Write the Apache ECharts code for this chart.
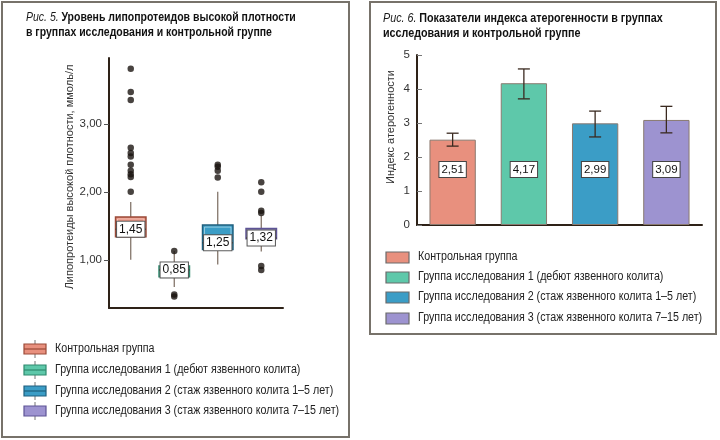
<!DOCTYPE html>
<html><head><meta charset="utf-8">
<script src="https://cdn.jsdelivr.net/npm/echarts@6/dist/echarts.min.js"></script>
<style>html,body{margin:0;padding:0;background:#fff}#c{width:720px;height:440px}</style>
</head><body><div id="c"></div>
<script>
// ---- data ----
const groups = ['Контрольная группа','Группа исследования 1 (дебют язвенного колита)','Группа исследования 2 (стаж язвенного колита 1–5 лет)','Группа исследования 3 (стаж язвенного колита 7–15 лет)'];
const fills = ['#e8907e','#5ec8aa','#3b9dc6','#9d93d0'];
const strokes = ['#9a4a38','#2f8a6e','#1e5f7e','#5e5496'];
// Fig.5 boxplot (ммоль/л)
const boxMin    = [1.00, 0.60, 0.93, 1.12];
const boxQ1     = [1.34, 0.75, 1.15, 1.31];
const boxMedian = [1.45, 0.85, 1.25, 1.32];
const boxQ3     = [1.63, 0.91, 1.51, 1.46];
const boxMax    = [1.85, 1.13, 2.00, 1.65];
const outliers = [
  [0,3.81],[0,3.47],[0,3.35],[0,2.65],[0,2.57],[0,2.52],[0,2.40],[0,2.31],[0,2.26],[0,2.22],[0,2.00],
  [1,1.13],[1,0.49],[1,0.46],
  [2,2.40],[2,2.37],[2,2.31],[2,2.21],
  [3,2.14],[3,2.00],[3,1.72],[3,1.69],[3,0.91],[3,0.85]
];
const leftTicks = [1,2,3];
// Fig.6 bar chart
const atherIndex = [2.51, 4.17, 2.99, 3.09];
const errLow  = [2.32, 3.71, 2.59, 2.71];
const errHigh = [2.70, 4.59, 3.35, 3.49];

const fmt2 = v => v.toFixed(2).replace('.', ',');
const FONT = '"Liberation Sans", Arial, sans-serif';
const AX = '#2e2218';

const chart = echarts.init(document.getElementById('c'), null, {renderer:'canvas'});

const titleRich = {i:{font:'italic 12.5px '+FONT, fill:'#1a1a1a', lineHeight:15}, b:{font:'bold 12.5px '+FONT, fill:'#111', lineHeight:15}};
const graphics = [
  {type:'rect', shape:{x:2,y:2,width:347,height:435}, style:{fill:'none', stroke:'#77726a', lineWidth:2}},
  {type:'rect', shape:{x:370,y:2,width:346,height:332}, style:{fill:'none', stroke:'#77726a', lineWidth:2}},
  {type:'text', x:26, y:10, scaleX:0.84, style:{text:'{i|Рис. 5.} {b|Уровень липопротеидов высокой плотности}\n{b|в группах исследования и контрольной группе}', rich:titleRich, verticalAlign:'top'}},
  {type:'text', x:383, y:11, scaleX:0.86, style:{text:'{i|Рис. 6.} {b|Показатели индекса атерогенности в группах}\n{b|исследования и контрольной группе}', rich:titleRich, verticalAlign:'top'}}
];
const legL = [349, 370, 391, 411];
const legR = [257, 277, 297, 318];
groups.forEach((g, i) => {
  const y = legL[i];
  graphics.push({type:'line', shape:{x1:35,y1:y-9,x2:35,y2:y+9}, style:{stroke:'#777', lineWidth:1}});
  graphics.push({type:'rect', shape:{x:24,y:y-5,width:22,height:10}, style:{fill:fills[i], stroke:strokes[i], lineWidth:1.2}});
  if (i < 3) graphics.push({type:'line', shape:{x1:24,y1:y,x2:46,y2:y}, style:{stroke:strokes[i], lineWidth:1.2}});
  graphics.push({type:'text', x:55, y:y, scaleX:0.89, style:{text:g, font:'12px '+FONT, fill:'#222', verticalAlign:'middle'}});
  const yr = legR[i];
  graphics.push({type:'rect', shape:{x:386,y:yr-5,width:23,height:11}, style:{fill:fills[i], stroke:'#6a6a6a', lineWidth:1.2}});
  graphics.push({type:'text', x:418, y:yr, scaleX:0.89, style:{text:g, font:'12px '+FONT, fill:'#222', verticalAlign:'middle'}});
});

const boxData = groups.map((g, i) => [i, boxMin[i], boxQ1[i], boxMedian[i], boxQ3[i], boxMax[i]]);

chart.setOption({
  animation:false,
  textStyle:{fontFamily:FONT},
  graphic: graphics,
  grid:[
    {left:109, top:58, width:174, height:250},
    {left:417, top:55, width:285, height:170}
  ],
  xAxis:[
    {gridIndex:0, type:'category', data:groups, axisLabel:{show:false},
     axisLine:{lineStyle:{color:AX, width:2}}, axisTick:{alignWithLabel:true, inside:true, length:5, lineStyle:{color:AX}}},
    {gridIndex:1, type:'category', data:groups, axisLabel:{show:false},
     axisLine:{lineStyle:{color:AX, width:2}}, axisTick:{inside:true, length:4, interval:0, lineStyle:{color:AX}}}
  ],
  yAxis:[
    {gridIndex:0, type:'value', min:0.29, max:3.97, splitLine:{show:false},
     axisLine:{show:true, lineStyle:{color:AX, width:2}},
     axisTick:{show:true, length:5, customValues:leftTicks, lineStyle:{color:'#555'}},
     axisLabel:{customValues:leftTicks, formatter:v => fmt2(v), fontSize:11.5, color:'#333', margin:7},
     name:'Липопротеиды высокой плотности, ммоль/л', nameLocation:'middle', nameGap:28, nameRotate:90,
     nameTextStyle:{fontSize:11, color:'#333', padding:[0,0,0,12]}},
    {gridIndex:1, type:'value', min:0, max:5, interval:1, splitLine:{show:false},
     axisLine:{show:true, lineStyle:{color:AX, width:2}},
     axisTick:{show:true, inside:true, length:5, lineStyle:{color:'#777'}},
     axisLabel:{fontSize:11.5, color:'#333', margin:7},
     name:'Индекс атерогенности', nameLocation:'middle', nameGap:21, nameRotate:90,
     nameTextStyle:{fontSize:11, color:'#333', padding:[0,0,0,26]}}
  ],
  series:[
    {type:'custom', xAxisIndex:0, yAxisIndex:0, data:boxData, z:3,
     renderItem:(params, api) => {
       const i = api.value(0);
       const w = api.size([1,0])[0]*0.7;
       const pMin = api.coord([i, api.value(1)]), pQ1 = api.coord([i, api.value(2)]),
             pMed = api.coord([i, api.value(3)]), pQ3 = api.coord([i, api.value(4)]),
             pMax = api.coord([i, api.value(5)]);
       const cx = pMed[0];
       return {type:'group', children:[
         {type:'line', shape:{x1:cx,y1:pMax[1],x2:cx,y2:pQ3[1]}, style:{stroke:'#7a6a5e', lineWidth:1.2}},
         {type:'line', shape:{x1:cx,y1:pQ1[1],x2:cx,y2:pMin[1]}, style:{stroke:'#7a6a5e', lineWidth:1.2}},
         {type:'rect', shape:{x:cx-w/2, y:pQ3[1], width:w, height:pQ1[1]-pQ3[1]}, style:{fill:fills[i], stroke:strokes[i], lineWidth:1.5}},
         {type:'rect', shape:{x:cx-w/2+2, y:pQ3[1]+2, width:w-4, height:Math.max(0,pQ1[1]-pQ3[1]-4)}, style:{fill:'none', stroke:'rgba(255,255,255,0.45)', lineWidth:1}},
         {type:'line', shape:{x1:cx-w/2,y1:pMed[1],x2:cx+w/2,y2:pMed[1]}, style:{stroke:'#3a2a20', lineWidth:1.2}},
         {type:'text', style:{text:fmt2(api.value(3)), x:cx, y:pMed[1], align:'center', verticalAlign:'middle',
           font:'12px '+FONT, fill:'#111', backgroundColor:'#fff', borderColor:'#555', borderWidth:1, padding:[2,2,1,2]}}
       ]};
     }},
    {type:'scatter', xAxisIndex:0, yAxisIndex:0, data:outliers, symbolSize:6.5, itemStyle:{color:'#1a1410'}, z:4},
    {type:'bar', xAxisIndex:1, yAxisIndex:1, data:atherIndex, barWidth:'65%',
     itemStyle:{color:p => fills[p.dataIndex], borderColor:'#8a7a70', borderWidth:1},
     label:{show:true, position:'insideBottom', distance:48, formatter:p => fmt2(p.value),
       fontSize:11.5, color:'#111', backgroundColor:'#fff', borderColor:'#444', borderWidth:1, padding:[2,2,1,2]}},
    {type:'custom', xAxisIndex:1, yAxisIndex:1, z:5,
     data: atherIndex.map((v, i) => [i, errLow[i], errHigh[i]]),
     renderItem:(params, api) => {
       const lo = api.coord([api.value(0), api.value(1)]), hi = api.coord([api.value(0), api.value(2)]);
       const c = 6, st = {stroke:'#3a2a20', lineWidth:1.3};
       return {type:'group', children:[
         {type:'line', shape:{x1:lo[0],y1:lo[1],x2:hi[0],y2:hi[1]}, style:st},
         {type:'line', shape:{x1:lo[0]-c,y1:lo[1],x2:lo[0]+c,y2:lo[1]}, style:st},
         {type:'line', shape:{x1:hi[0]-c,y1:hi[1],x2:hi[0]+c,y2:hi[1]}, style:st}
       ]};
     }}
  ]
});
</script></body></html>
